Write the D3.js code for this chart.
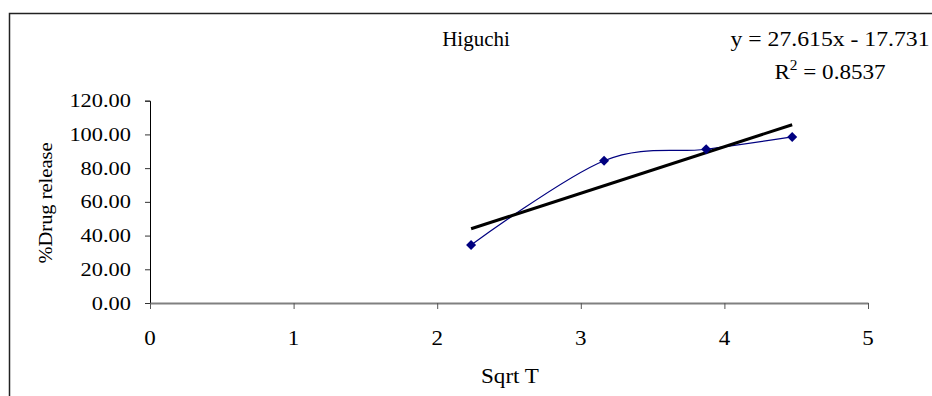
<!DOCTYPE html>
<html>
<head>
<meta charset="utf-8">
<script src="https://cdn.jsdelivr.net/npm/d3@7"></script>
<style>
    body {margin:0; background:white;}
    svg text {font-family:"Liberation Serif", "Times New Roman", serif; fill:black;}
</style>
</head>
<body>
<svg></svg>
<script>
//data
var sqrtT = [2.236, 3.162, 3.873, 4.472]
var drugRelease = [34.4, 84.4, 91.2, 98.5]
var xTicks = [0, 1, 2, 3, 4, 5]
var yTicks = [0, 20, 40, 60, 80, 100, 120]
var trendSlope = 27.615
var trendIntercept = -17.731
var equationText = "y = 27.615x - 17.731"
var rSquaredText = "0.8537"

var screen = {width:932, height:396}
var plot = {left:150, right:868, top:100.7, bottom:303}

var svg = d3.select("svg")
    .attr("width", screen.width)
    .attr("height", screen.height)

//the outer frame, cut off at the right and bottom like the picture
svg.append("rect")
    .attr("x", 9.5).attr("y", 13.5)
    .attr("width", 940).attr("height", 400)
    .attr("fill", "white")
    .attr("stroke", "#222").attr("stroke-width", 1.5)

var xScale = d3.scaleLinear().domain([0,5]).range([plot.left, plot.right])
var yScale = d3.scaleLinear().domain([0,120]).range([plot.bottom, plot.top])

//text helper, the picture's type is a bit stretched sideways
var addText = function(str, x, y, size, sx, anchor)
{
    return svg.append("text")
        .attr("transform", "translate("+x+","+y+") scale("+sx+",1)")
        .attr("font-size", size)
        .attr("text-anchor", anchor)
        .text(str)
}

//y axis
var yAxis = d3.axisLeft(yScale).tickValues(yTicks).tickSize(5).tickFormat(d3.format(".2f"))
var yG = svg.append("g")
    .attr("transform", "translate("+plot.left+",0)")
    .call(yAxis)
yG.select(".domain").attr("stroke", "black").attr("stroke-width", 1)
yG.selectAll(".tick line").attr("stroke", "#333")
yG.selectAll(".tick text").remove()
yTicks.forEach(function(t){
    addText(d3.format(".2f")(t), 131, yScale(t)+6.5, 19, 1.18, "end")
})

//x axis
var xAxis = d3.axisBottom(xScale).tickValues(xTicks).tickSize(6).tickSizeOuter(0)
var xG = svg.append("g")
    .attr("transform", "translate(0,"+plot.bottom+")")
    .call(xAxis)
xG.select(".domain").attr("stroke", "#808080").attr("stroke-width", 2)
xG.selectAll(".tick line").attr("stroke", "#555")
xG.selectAll(".tick text").remove()
xTicks.forEach(function(t){
    addText(t, xScale(t), 345, 20, 1.15, "middle")
})

//smoothed data line
var lineGenerator = d3.line()
    .x(function(d,i){return xScale(sqrtT[i])})
    .y(function(d){return yScale(d)})
    .curve(d3.curveCardinal.tension(0))

svg.append("path")
    .datum(drugRelease)
    .attr("d", lineGenerator)
    .attr("fill", "none")
    .attr("stroke", "#000080")
    .attr("stroke-width", 1.2)

//linear trend line
var first = sqrtT[0], last = sqrtT[sqrtT.length-1]
svg.append("line")
    .attr("x1", xScale(first)).attr("y1", yScale(trendSlope*first+trendIntercept))
    .attr("x2", xScale(last)).attr("y2", yScale(trendSlope*last+trendIntercept))
    .attr("stroke", "black")
    .attr("stroke-width", 3)

//diamond markers
svg.selectAll(".marker")
    .data(drugRelease)
    .enter()
    .append("path")
    .attr("class", "marker")
    .attr("d", d3.symbol().type(d3.symbolDiamond2).size(64))
    .attr("transform", function(d,i){return "translate("+xScale(sqrtT[i])+","+yScale(d)+")"})
    .attr("fill", "#000080")

//titles
addText("Higuchi", 476, 46, 21, 1.0, "middle")
addText("Sqrt T", 510, 383, 21, 1.1, "middle")

svg.append("text")
    .attr("transform", "translate(52,203) rotate(-90) scale(1.05,1)")
    .attr("font-size", 19.5)
    .attr("text-anchor", "middle")
    .text("%Drug release")

//trend line equation
addText(equationText, 830, 46, 21, 1.13, "middle")
var r2 = addText("R", 830, 79, 21, 1.1, "middle")
r2.append("tspan").attr("font-size", 14).attr("dy", -9).text("2")
r2.append("tspan").attr("dy", 9).text(" = "+rSquaredText)
</script>
</body>
</html>
